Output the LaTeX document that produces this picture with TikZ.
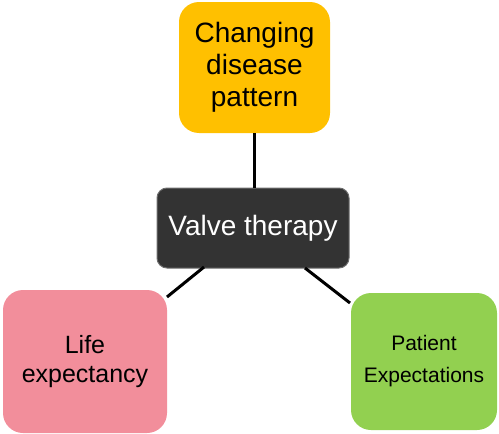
\documentclass[tikz,border=0pt]{standalone}
\usepackage{fontspec}
\setmainfont{Liberation Sans}
\definecolor{amber}{HTML}{FFC000}
\definecolor{charcoal}{HTML}{333333}
\definecolor{edgegray}{HTML}{6E6E6E}
\definecolor{rosepink}{HTML}{F28E9B}
\definecolor{leafgreen}{HTML}{92D050}
\begin{document}
\begin{tikzpicture}[x=1pt,y=-1pt,
  box/.style={rectangle, rounded corners=20pt, inner sep=0pt, align=center, text=black},
  link/.style={line width=3pt, black}]
\useasboundingbox (0,0) rectangle (499,434);
% central topic and the three factors around it
\node[box, fill=amber, minimum width=151pt, minimum height=131pt,
      font=\fontsize{28}{32}\selectfont] (cd) at (254.5,67.5)
      {Changing\\disease\\pattern};
\node[box, fill=charcoal, draw=edgegray, line width=1pt, rounded corners=10pt,
      minimum width=192pt, minimum height=80pt, text=white,
      font=\fontsize{28}{32}\selectfont] (vt) at (253,228) {Valve therapy};
\node[box, fill=rosepink, minimum width=164pt, minimum height=143pt,
      font=\fontsize{25}{29}\selectfont] (le) at (85,361.5) {Life\\expectancy};
\node[box, fill=leafgreen, minimum width=146pt, minimum height=137pt,
      font=\fontsize{21}{32}\selectfont] (pe) at (424,361.5) {Patient\\Expectations};
% connectors
\coordinate (tend) at (vt.north -| cd.south);
\coordinate (lstart) at (204,267);
\coordinate (lend) at (167,297);
\coordinate (rstart) at (305,268);
\coordinate (rend) at (350,303);
\draw[link] (cd.south) -- (tend);
\draw[link] (lstart) -- (lend);
\draw[link] (rstart) -- (rend);
\end{tikzpicture}
\end{document}
